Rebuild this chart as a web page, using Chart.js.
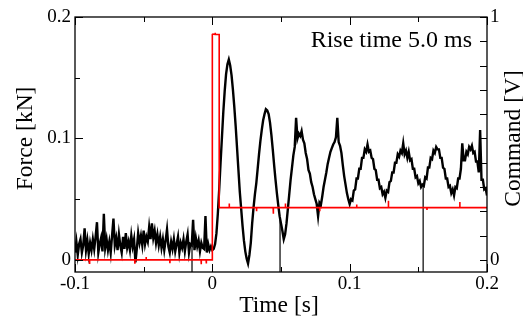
<!DOCTYPE html>
<html>
<head>
<meta charset="utf-8">
<script src="https://cdn.jsdelivr.net/npm/chart.js@4.4.1/dist/chart.umd.min.js"></script>
<style>
  body { margin: 0; background: #fff; }
  canvas { display: block; }
</style>
</head>
<body>
<canvas id="force-chart" width="523" height="323"></canvas>
<script>
const forceStart = -0.1;
const forceStep = 0.001;
const forceValues = [
    // -0.100 .. -0.001
    0.006, 0.015, 0.004, 0.013, 0.017, 0.006, 0.012, 0.026, 0.008, 0.016,
    0.005, 0.014, 0.008, 0.017, 0.009, 0.019, 0.031, 0.006, 0.013, 0.018,
    0.007, 0.038, 0.010, 0.017, 0.008, 0.015, 0.006, 0.020, 0.034, 0.012,
    0.018, 0.008, 0.021, 0.012, 0.006, 0.019, 0.009, 0.022, 0.010, 0.015,
    0.008, 0.020, 0.011, 0.017, -0.002, 0.009, 0.022, 0.014, 0.020, 0.012,
    0.024, 0.013, 0.019, 0.015, 0.027, 0.017, 0.030, 0.018, 0.024, 0.014,
    0.021, 0.012, 0.019, 0.010, 0.017, 0.008, 0.016, 0.025, 0.011, 0.006,
    0.015, 0.009, 0.017, 0.007, 0.013, 0.019, 0.006, 0.014, 0.010, 0.017,
    0.007, 0.015, 0.021, 0.006, 0.013, 0.012, 0.033, 0.008, 0.018, 0.011,
    0.016, 0.007, 0.014, 0.010, 0.009, 0.036, 0.006, 0.013, 0.008, 0.011,
    // 0.000
    0.008,
    // 0.001 .. 0.200
    0.009, 0.013, 0.022, 0.038, 0.058, 0.080, 0.101, 0.122, 0.139, 0.153,
    0.161, 0.165, 0.160, 0.152, 0.140, 0.126, 0.110, 0.092, 0.074, 0.056,
    0.042, 0.028, 0.016, 0.007, 0.001, -0.003, 0.004, 0.014, 0.030, 0.043,
    0.054, 0.063, 0.075, 0.087, 0.098, 0.107, 0.115, 0.120, 0.124, 0.123,
    0.120, 0.113, 0.103, 0.091, 0.078, 0.066, 0.055, 0.045, 0.036, 0.030,
    0.024, 0.017, 0.021, 0.030, 0.042, 0.054, 0.066, 0.076, 0.086, 0.093,
    0.117, 0.100, 0.104, 0.102, 0.106, 0.099, 0.096, 0.088, 0.083, 0.074,
    0.071, 0.064, 0.060, 0.054, 0.050, 0.046, 0.036, 0.047, 0.045, 0.052,
    0.060, 0.066, 0.072, 0.079, 0.084, 0.089, 0.092, 0.095, 0.097, 0.101,
    0.117, 0.097, 0.094, 0.088, 0.078, 0.069, 0.062, 0.055, 0.050, 0.046,
    0.050, 0.049, 0.057, 0.058, 0.067, 0.067, 0.075, 0.075, 0.084, 0.084,
    0.091, 0.089, 0.095, 0.089, 0.090, 0.084, 0.083, 0.075, 0.074, 0.066,
    0.066, 0.059, 0.060, 0.054, 0.056, 0.051, 0.057, 0.056, 0.064, 0.065,
    0.072, 0.072, 0.080, 0.080, 0.087, 0.085, 0.090, 0.088, 0.096, 0.087,
    0.090, 0.084, 0.089, 0.082, 0.083, 0.075, 0.075, 0.068, 0.069, 0.063,
    0.065, 0.060, 0.062, 0.061, 0.068, 0.067, 0.076, 0.076, 0.084, 0.083,
    0.090, 0.088, 0.093, 0.091, 0.091, 0.084, 0.084, 0.076, 0.075, 0.067,
    0.067, 0.060, 0.061, 0.055, 0.058, 0.053, 0.060, 0.059, 0.067, 0.067,
    0.075, 0.096, 0.082, 0.082, 0.089, 0.087, 0.093, 0.091, 0.094, 0.088,
    0.089, 0.081, 0.081, 0.072, 0.107, 0.066, 0.066, 0.058, 0.059, 0.053
];

// single-sample dropouts of the force trace that fall below the axis
const dropoutTime = [-0.0148, 0.0493, 0.1535];
const dropoutTop = [0.012, 0.033, 0.062];
const dropoutBottom = -0.03;

// Command signal (V): step with a 5 ms overshoot, plus the small glitches seen on the trace
const cmdTime = [
    -0.1, -0.0895, -0.0894, -0.0893, -0.0565, -0.0564, -0.0563, -0.0483, -0.0482, -0.0481,
    -0.031, -0.0309, -0.0308, -0.0082, -0.0081, -0.008, -0.0045, -0.0044, -0.0043, 0,
    0, 0.0005, 0.002, 0.0021, 0.0022, 0.005,
    0.005, 0.0122, 0.0123, 0.0124, 0.0321, 0.0322, 0.0323, 0.0443, 0.0444, 0.0445,
    0.0531, 0.0532, 0.0533, 0.0781, 0.0782, 0.0783, 0.105, 0.1051, 0.1052, 0.1281,
    0.1282, 0.1283, 0.1562, 0.1563, 0.1564, 0.1801, 0.1802, 0.1803, 0.2
];
const cmdValues = [
    0, 0, -0.017, 0, 0, -0.016, 0, 0, 0.012, 0,
    0, -0.014, 0, 0, -0.018, 0, 0, -0.015, 0, 0,
    0.928, 0.93, 0.928, 0.935, 0.928, 0.928,
    0.215, 0.215, 0.232, 0.215, 0.215, 0.2, 0.215, 0.215, 0.19, 0.215,
    0.215, 0.232, 0.215, 0.215, 0.2, 0.215, 0.215, 0.228, 0.215, 0.215,
    0.243, 0.215, 0.215, 0.205, 0.215, 0.215, 0.238, 0.215, 0.215
];

// Axis ticks and their labels
const timeTicks = [-0.1, -0.05, 0, 0.05, 0.1, 0.15, 0.2];
const timeTickLabels = ['-0.1', '', '0', '', '0.1', '', '0.2'];
const forceTicks = [0, 0.05, 0.1, 0.15, 0.2];
const forceTickLabels = ['0', '', '0.1', '', '0.2'];
const cmdTicks = [0, 0.1, 0.2, 0.3, 0.4, 0.5, 0.6, 0.7, 0.8, 0.9, 1];
const cmdTickLabels = ['0', '', '', '', '', '', '', '', '', '', '1'];

const SERIF = '"Liberation Serif", "Times New Roman", serif';

const forceData = forceValues.map((v, i) => ({ x: forceStart + i * forceStep, y: v }));
const cmdData = cmdTime.map((t, i) => ({ x: t, y: cmdValues[i] }));
const dropoutData = [];
dropoutTime.forEach((t, i) => {
    dropoutData.push({ x: t, y: dropoutTop[i] }, { x: t, y: dropoutBottom }, { x: t, y: null });
});

// frame, inward ticks and axis titles
const framePlugin = {
    id: 'frame',
    afterDraw(chart) {
        const { ctx, chartArea: a, scales } = chart;
        ctx.save();
        ctx.strokeStyle = '#000';
        ctx.lineWidth = 1.3;
        ctx.strokeRect(a.left, a.top, a.right - a.left, a.bottom - a.top);

        ctx.lineWidth = 1;
        ctx.beginPath();
        timeTicks.forEach((v, i) => {
            const px = Math.round(scales.x.getPixelForValue(v)) + 0.5;
            const len = timeTickLabels[i] ? 8 : 5;
            ctx.moveTo(px, a.bottom); ctx.lineTo(px, a.bottom - len);
            ctx.moveTo(px, a.top); ctx.lineTo(px, a.top + len);
        });
        forceTicks.forEach((v, i) => {
            const py = Math.round(scales.y.getPixelForValue(v)) + 0.5;
            const len = forceTickLabels[i] ? 8 : 5;
            ctx.moveTo(a.left, py); ctx.lineTo(a.left + len, py);
        });
        cmdTicks.forEach(v => {
            const py = Math.round(scales.y2.getPixelForValue(v)) + 0.5;
            ctx.moveTo(a.right, py); ctx.lineTo(a.right - 7, py);
        });
        ctx.stroke();

        ctx.fillStyle = '#000';
        ctx.font = '23.5px ' + SERIF;
        ctx.textAlign = 'center';
        ctx.textBaseline = 'alphabetic';
        const midY = (scales.y.getPixelForValue(0) + scales.y.getPixelForValue(0.2)) / 2;

        ctx.save();
        ctx.translate(32, midY);
        ctx.rotate(-Math.PI / 2);
        ctx.fillText('Force [kN]', 0, 0);
        ctx.restore();

        ctx.save();
        ctx.translate(520, midY);
        ctx.rotate(-Math.PI / 2);
        ctx.fillText('Command [V]', 0, 0);
        ctx.restore();

        ctx.fillText('Time [s]', 279, 312);

        ctx.textAlign = 'right';
        ctx.font = '24px ' + SERIF;
        ctx.fillText('Rise time 5.0 ms', 472, 47);
        ctx.restore();
    }
};

window.addEventListener('DOMContentLoaded', () => {
    const ctx = document.getElementById('force-chart').getContext('2d');
    const tickFont = { family: SERIF, size: 19 };

    new Chart(ctx, {
        type: 'line',
        data: {
            datasets: [{
                label: 'Command',
                data: cmdData,
                yAxisID: 'y2',
                borderColor: '#ff0000',
                borderWidth: 1.6,
                pointRadius: 0,
                tension: 0,
                order: 0
            }, {
                label: 'Force',
                data: forceData,
                yAxisID: 'y',
                borderColor: '#000000',
                borderWidth: 2.4,
                pointRadius: 0,
                tension: 0,
                order: 1
            }, {
                label: 'Dropouts',
                data: dropoutData,
                yAxisID: 'y',
                borderColor: '#000000',
                borderWidth: 1.2,
                pointRadius: 0,
                spanGaps: false,
                order: 2
            }]
        },
        options: {
            responsive: false,
            animation: false,
            layout: { padding: { top: 17 } },
            plugins: {
                legend: { display: false },
                tooltip: { enabled: false }
            },
            scales: {
                x: {
                    type: 'linear',
                    position: 'bottom',
                    min: -0.1,
                    max: 0.2,
                    grid: { display: false, drawTicks: false },
                    border: { display: false },
                    afterBuildTicks: s => { s.ticks = timeTicks.map(v => ({ value: v })); },
                    afterFit: s => { s.height = 51; },
                    ticks: {
                        autoSkip: false,
                        maxRotation: 0,
                        padding: 1,
                        color: '#000',
                        font: tickFont,
                        callback: (v, i) => timeTickLabels[i]
                    }
                },
                y: {
                    position: 'left',
                    min: -0.01,
                    max: 0.2,
                    grid: { display: false, drawTicks: false },
                    border: { display: false },
                    afterBuildTicks: s => { s.ticks = forceTicks.map(v => ({ value: v })); },
                    afterFit: s => { s.width = 75; },
                    ticks: {
                        autoSkip: false,
                        padding: 4,
                        color: '#000',
                        font: tickFont,
                        callback: (v, i) => forceTickLabels[i]
                    }
                },
                y2: {
                    position: 'right',
                    min: -0.05,
                    max: 1,
                    grid: { display: false, drawTicks: false },
                    border: { display: false },
                    afterBuildTicks: s => { s.ticks = cmdTicks.map(v => ({ value: v })); },
                    afterFit: s => { s.width = 36; },
                    ticks: {
                        autoSkip: false,
                        padding: 3,
                        color: '#000',
                        font: tickFont,
                        callback: (v, i) => cmdTickLabels[i]
                    }
                }
            }
        },
        plugins: [framePlugin]
    });
});
</script>
</body>
</html>
